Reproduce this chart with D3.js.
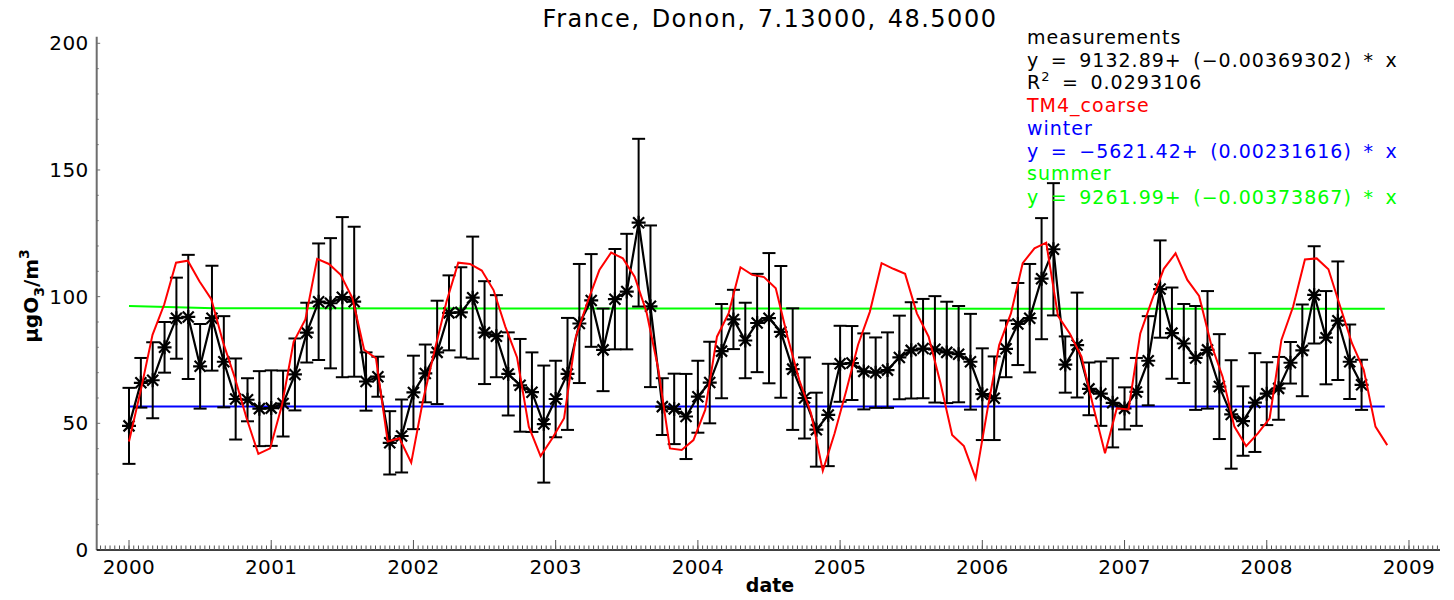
<!DOCTYPE html>
<html>
<head>
<meta charset="utf-8">
<script src="https://cdn.jsdelivr.net/npm/d3@7"></script>
<style>
  html, body { margin: 0; padding: 0; background: #fff; }
  svg { display: block; }
  text { font-family: "DejaVu Sans", sans-serif; }
</style>
</head>
<body>
<svg id="chart" width="1454" height="600"></svg>
<script>
// Monthly ozone at Donon (France): measured monthly mean +/- standard deviation,
// the TM4 coarse model run, and the winter / summer trend lines.
const stationTitle = "France, Donon, 7.13000, 48.5000";

// Measurements, one value per month starting January 2000
const measMean = [
  49, 66, 67, 80, 91.5, 92, 72.5, 91.5, 74.3, 59.6, 59.3, 55.8,
  56, 57.8, 69.3, 85.8, 98, 97.4, 99.8, 98, 66.5, 68.4, 42.3, 45,
  62.2, 69.7, 78, 93.6, 93.8, 99.6, 85.8, 84.4, 69.5, 65, 62.3, 49.7,
  59.6, 69.5, 89.4, 98.5, 79, 99, 102, 129.2, 96.2, 56.6, 55.7, 52.7,
  60.5, 66.1, 78.5, 91, 82.7, 89.6, 91.5, 86.1, 71.4, 60, 47.5, 53.3,
  73.5, 73.8, 70.5, 70, 71, 76, 78.8, 79.5, 79.2, 78, 77.3, 74.3,
  61.5, 59.9, 79.4, 89.2, 91.5, 107.1, 118.7, 73.2, 80.9, 63.6, 61.7, 58.1,
  55.9, 62.4, 74.7, 103, 85.6, 81.5, 75.8, 79, 64.5, 53.5, 50.9, 58.2,
  61.7, 63.8, 73.9, 78.8, 100.7, 83.8, 90.5, 74.3, 65.2
];
const measSd = [
  15, 9.8, 15, 10, 16, 24.5, 16.7, 20.7, 18, 16, 8.5, 14.8,
  14.9, 13, 14.2, 11.8, 23, 25.7, 31.6, 29.6, 11.5, 7.9, 12.5, 14.4,
  14.5, 11.4, 20.4, 14.8, 17.8, 24.1, 20.3, 16.2, 16.4, 18.3, 15.7, 23.1,
  15.1, 22.1, 23.5, 18.3, 16.3, 19.8, 22.8, 33.1, 31.9, 11.2, 13.9, 16.8,
  14.2, 16.1, 18.6, 11.7, 14.9, 19.4, 25.7, 26, 24, 16, 14.6, 20.2,
  15, 14.6, 15, 13.9, 14.9, 16.5, 19, 19.6, 21, 20, 19, 18.9,
  18.1, 16.5, 11.2, 16.2, 21.4, 23.9, 26.1, 11.1, 20.7, 10.4, 12.7, 17.6,
  8.3, 13.4, 17.6, 19.2, 18, 15.6, 20.5, 23.2, 20.7, 21.4, 13.7, 19.5,
  12.4, 12.4, 8.2, 18.1, 19.2, 18.4, 23.4, 14.7, 9.9
];

// TM4 coarse model output, one value every 30.2 days from 1 January 2000
const modelStepDays = 30.2;
const modelO3 = [
  42.8, 63, 84.9, 97, 113.4, 114.2, 106, 99, 82, 68, 52, 37.9,
  40.1, 57, 82.2, 91, 114.9, 112.9, 108.6, 99.4, 79, 75.7, 42.8, 44.1,
  34.5, 59, 79, 98, 113.4, 112.9, 110.3, 102.6, 88.2, 76, 48.7, 37.1,
  44.1, 52, 84.2, 98, 110.5, 117.4, 115.1, 107.9, 94.1, 71.7, 40.1, 39.5,
  43.4, 55.3, 84.2, 93.5, 111.6, 108.6, 107.7, 103.3, 84.2, 67.1, 54, 31.3,
  46, 63, 81, 94, 113.2, 111, 109, 93.4, 84.2, 66, 45.4, 41,
  28.3, 55.3, 80.9, 93.4, 113.2, 119.1, 121.3, 92.4, 85.5, 76.3, 56.6, 38.2,
  55.9, 55.5, 85.5, 98.7, 111, 117.1, 106.6, 100.3, 81.6, 68.4, 48.7, 41,
  46, 52, 82.9, 96.1, 114.7, 115.1, 110.8, 96.1, 81.6, 71.1, 48.7, 41.4
];

// Seasonal trend lines as drawn (decimal year, ozone)
const winterTrend = [[2000.0, 56.6], [2008.83, 56.6]];
const summerTrend = [[2000.0, 96.3], [2000.6, 95.4], [2008.83, 95.2]];

// Axis ticks
const yTicks = [0, 50, 100, 150, 200];
const xYears = [2000, 2001, 2002, 2003, 2004, 2005, 2006, 2007, 2008, 2009];

// Legend lines
const legendLines = [
  { text: "measurements", color: "#000000" },
  { text: "y = 9132.89+ (\u22120.00369302) * x", color: "#000000" },
  { text: "R2 = 0.0293106", color: "#000000", sup: true },
  { text: "TM4_coarse", color: "#ff0000" },
  { text: "winter", color: "#0000ff" },
  { text: "y = \u22125621.42+ (0.00231616) * x", color: "#0000ff" },
  { text: "summer", color: "#00ff00" },
  { text: "y = 9261.99+ (\u22120.00373867) * x", color: "#00ff00" }
];

const svg = d3.select("#chart");

const plotLeft = 96.7, plotRight = 1440, plotBottom = 550, plotTop = 43.3;
const x = d3.scaleLinear()
  .domain([2000 - (129 - plotLeft) / 142.22, 2000 + (plotRight - 129) / 142.22])
  .range([plotLeft, plotRight]);
const y = d3.scaleLinear().domain([0, 200]).range([plotBottom, plotTop]);

const measData = measMean.map((v, i) => ({ t: 2000 + i / 12, v, sd: measSd[i] }));
const modelData = modelO3.map((v, i) => ({ t: 2000 + i * modelStepDays / 365.25, v }));

// ---- axes ----
const yMinor = d3.range(0, 201, 10);
const yAxis = svg.append("g").attr("class", "y-axis");
yAxis.append("line")
  .attr("x1", plotLeft).attr("x2", plotLeft)
  .attr("y1", plotTop - 6.5).attr("y2", plotBottom)
  .attr("stroke", "#6e6e6e").attr("stroke-width", 2);
yAxis.selectAll("line.minor").data(yMinor).join("line")
  .attr("class", "minor")
  .attr("x1", plotLeft).attr("x2", d => plotLeft + (yTicks.includes(d) ? 3.5 : 2))
  .attr("y1", d => y(d)).attr("y2", d => y(d))
  .attr("stroke", "#6e6e6e").attr("stroke-width", 1);
yAxis.selectAll("text").data(yTicks).join("text")
  .attr("x", plotLeft - 8).attr("y", d => y(d) + 7)
  .attr("text-anchor", "end")
  .attr("font-size", 20).attr("letter-spacing", 0.4)
  .text(d => d);

const xAxis = svg.append("g").attr("class", "x-axis");
xAxis.append("line")
  .attr("x1", plotLeft).attr("x2", plotRight)
  .attr("y1", plotBottom).attr("y2", plotBottom)
  .attr("stroke", "#000").attr("stroke-width", 1.5);
const xMinor = d3.range(-7, 9 * 30 + 10).map(j => 2000 + j / 30)
  .filter(t => x(t) >= plotLeft + 2 && x(t) <= plotRight);
xAxis.selectAll("line.minor").data(xMinor).join("line")
  .attr("class", "minor")
  .attr("x1", d => x(d)).attr("x2", d => x(d))
  .attr("y1", plotBottom).attr("y2", plotBottom - 4.5)
  .attr("stroke", "#555").attr("stroke-width", 1);
xAxis.selectAll("line.major").data(xYears).join("line")
  .attr("class", "major")
  .attr("x1", d => x(d)).attr("x2", d => x(d))
  .attr("y1", plotBottom).attr("y2", plotBottom - 10)
  .attr("stroke", "#555").attr("stroke-width", 1);
xAxis.selectAll("text").data(xYears).join("text")
  .attr("x", d => x(d)).attr("y", plotBottom + 24)
  .attr("text-anchor", "middle")
  .attr("font-size", 20).attr("letter-spacing", 0.4)
  .text(d => d);

// axis titles
svg.append("text")
  .attr("x", 770).attr("y", 592)
  .attr("text-anchor", "middle")
  .attr("font-size", 19).attr("font-weight", "bold")
  .text("date");

const yTitle = svg.append("text")
  .attr("transform", "translate(38,296) rotate(-90)")
  .attr("text-anchor", "middle")
  .attr("font-size", 20).attr("font-weight", "bold");
yTitle.append("tspan").text("\u03bcgO");
yTitle.append("tspan").attr("dy", 6).attr("font-size", 14).text("3");
yTitle.append("tspan").attr("dy", -6).text("/m");
yTitle.append("tspan").attr("dy", -9).attr("font-size", 14).text("3");

// title
svg.append("text")
  .attr("x", 770).attr("y", 27)
  .attr("text-anchor", "middle")
  .attr("font-size", 24).attr("letter-spacing", 1.5).attr("word-spacing", 2)
  .text(stationTitle);

// ---- trend lines ----
const trendLine = d3.line().x(d => x(d[0])).y(d => y(d[1]));
svg.append("path").datum(winterTrend)
  .attr("d", trendLine).attr("fill", "none")
  .attr("stroke", "#0000ff").attr("stroke-width", 2);
svg.append("path").datum(summerTrend)
  .attr("d", trendLine).attr("fill", "none")
  .attr("stroke", "#00ff00").attr("stroke-width", 2);

// ---- measurements: error bars, line, asterisks ----
const eb = svg.append("g").attr("stroke", "#000").attr("stroke-width", 2);
eb.selectAll("line.v").data(measData).join("line")
  .attr("class", "v")
  .attr("x1", d => x(d.t)).attr("x2", d => x(d.t))
  .attr("y1", d => y(d.v - d.sd)).attr("y2", d => y(d.v + d.sd));
eb.selectAll("line.top").data(measData).join("line")
  .attr("class", "top")
  .attr("x1", d => x(d.t) - 6.5).attr("x2", d => x(d.t) + 6.5)
  .attr("y1", d => y(d.v + d.sd)).attr("y2", d => y(d.v + d.sd));
eb.selectAll("line.bot").data(measData).join("line")
  .attr("class", "bot")
  .attr("x1", d => x(d.t) - 6.5).attr("x2", d => x(d.t) + 6.5)
  .attr("y1", d => y(d.v - d.sd)).attr("y2", d => y(d.v - d.sd));

const measLine = d3.line().x(d => x(d.t)).y(d => y(d.v));
svg.append("path").datum(measData)
  .attr("d", measLine).attr("fill", "none")
  .attr("stroke", "#000").attr("stroke-width", 2.2);

const star = "M-7,0H7M0,-7V7M-5.5,-5.5L5.5,5.5M-5.5,5.5L5.5,-5.5";
svg.append("g").selectAll("path").data(measData).join("path")
  .attr("transform", d => `translate(${x(d.t)},${y(d.v)})`)
  .attr("d", star).attr("stroke", "#000").attr("stroke-width", 2.2).attr("fill", "none");

// ---- model ----
const modelLine = d3.line().x(d => x(d.t)).y(d => y(d.v));
svg.append("path").datum(modelData)
  .attr("d", modelLine).attr("fill", "none")
  .attr("stroke", "#ff0000").attr("stroke-width", 2);

// ---- legend ----
const legend = svg.append("g").attr("class", "legend");
const legendY = [44, 67, 89, 112, 134.5, 157.5, 180, 203.5];
legendLines.forEach((l, i) => {
  const t = legend.append("text")
    .attr("x", 1027).attr("y", legendY[i])
    .attr("font-size", 19).attr("letter-spacing", 1.0).attr("word-spacing", 4.5)
    .attr("fill", l.color);
  if (l.sup) {
    t.append("tspan").text("R");
    t.append("tspan").attr("dy", -8).attr("font-size", 13).text("2");
    t.append("tspan").attr("dy", 8).text(" = 0.0293106");
  } else {
    t.text(l.text);
  }
});
</script>
</body>
</html>
